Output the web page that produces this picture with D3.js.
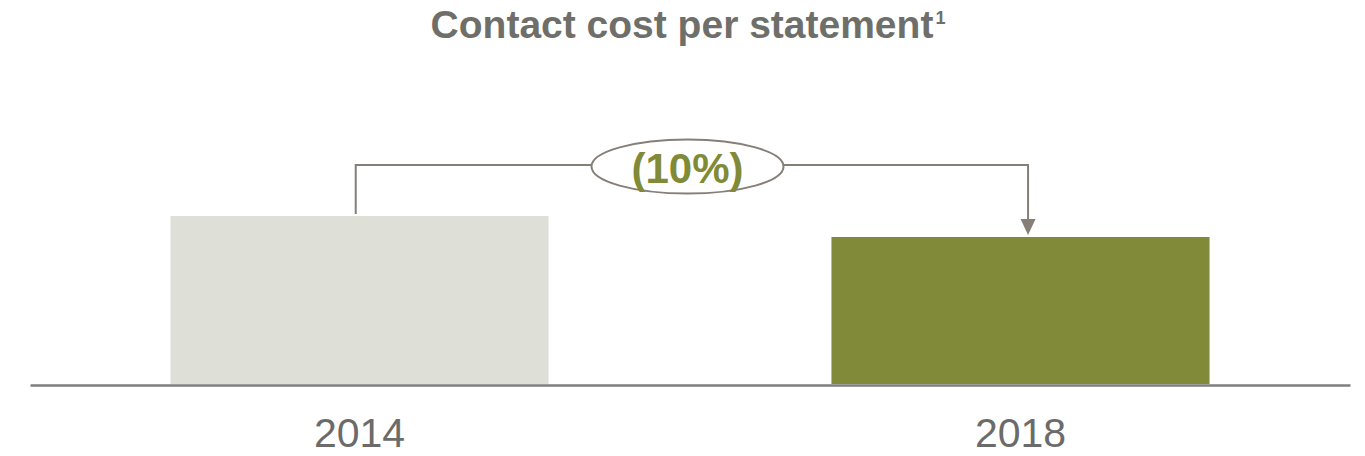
<!DOCTYPE html>
<html>
<head>
<meta charset="utf-8">
<script src="https://cdn.jsdelivr.net/npm/d3@7"></script>
<style>
  html, body { margin: 0; padding: 0; background: #fff; }
  svg { display: block; font-family: Arial, "Liberation Sans", sans-serif; }
</style>
</head>
<body>
<svg class="chart"></svg>
<script>
// chart data
const categories = ['2014', '2018']
const values = [100, 87.5]
const changeLabel = '(10%)'
const titleText = 'Contact cost per statement'
const titleNote = '1'

const width = 1365
const height = 456

const svg = d3.select('svg.chart')
  .attr('width', width)
  .attr('height', height)
  .attr('viewBox', `0 0 ${width} ${height}`)

// scales
const xScale = d3.scaleBand()
  .domain(categories)
  .range([30, 1350])
  .paddingInner(0.428)
  .paddingOuter(0.2125)

const yScale = d3.scaleLinear()
  .domain([0, 100])
  .range([384, 216])

const barColors = ['#dedfd7', '#818a38']

// title
const title = svg.append('text')
  .attr('x', 688)
  .attr('y', 38)
  .attr('text-anchor', 'middle')
  .attr('font-size', 39)
  .attr('font-weight', 'bold')
  .attr('fill', '#6f6f6a')
  .text(titleText)

title.append('tspan')
  .attr('font-size', 18)
  .attr('dy', -14)
  .attr('dx', 2)
  .text(titleNote)

// bars
svg.selectAll('rect.bar')
  .data(values)
  .enter()
  .append('rect')
  .attr('class', 'bar')
  .attr('x', (d, i) => xScale(categories[i]))
  .attr('y', d => yScale(d))
  .attr('width', xScale.bandwidth())
  .attr('height', d => yScale(0) - yScale(d))
  .attr('fill', (d, i) => barColors[i])

// baseline axis
const xAxis = d3.axisBottom(xScale).tickSize(0).tickPadding(33)
const axisG = svg.append('g')
  .attr('transform', `translate(0, ${yScale(0) + 1})`)
  .call(xAxis)

axisG.select('.domain')
  .attr('stroke', '#7f7f7f')
  .attr('stroke-width', 2.5)

axisG.selectAll('.tick text')
  .attr('font-size', 41)
  .attr('font-family', 'Arial, "Liberation Sans", sans-serif')
  .attr('fill', '#6b6b6b')

// change bracket with arrow
const bw = xScale.bandwidth()
const leftX = xScale(categories[0]) + bw * 0.49
const rightX = xScale(categories[1]) + bw * 0.52
const topY = yScale(d3.max(values)) - 51
const startY = yScale(values[0]) - 2
const tipY = yScale(values[1]) - 2
const lineColor = '#857f78'

svg.append('path')
  .attr('d', `M${leftX},${startY} V${topY} H${rightX} V${tipY - 14}`)
  .attr('fill', 'none')
  .attr('stroke', lineColor)
  .attr('stroke-width', 2)

svg.append('path')
  .attr('d', `M${rightX - 7.5},${tipY - 16} L${rightX + 7.5},${tipY - 16} L${rightX},${tipY} Z`)
  .attr('fill', lineColor)

// ellipse label
const midX = 687.5
svg.append('ellipse')
  .attr('cx', midX)
  .attr('cy', topY + 1.5)
  .attr('rx', 96)
  .attr('ry', 27)
  .attr('fill', '#fff')
  .attr('stroke', lineColor)
  .attr('stroke-width', 2)

svg.append('text')
  .attr('x', midX)
  .attr('y', topY + 18)
  .attr('text-anchor', 'middle')
  .attr('font-size', 42)
  .attr('font-weight', 'bold')
  .attr('fill', '#808a37')
  .text(changeLabel)
</script>
</body>
</html>
